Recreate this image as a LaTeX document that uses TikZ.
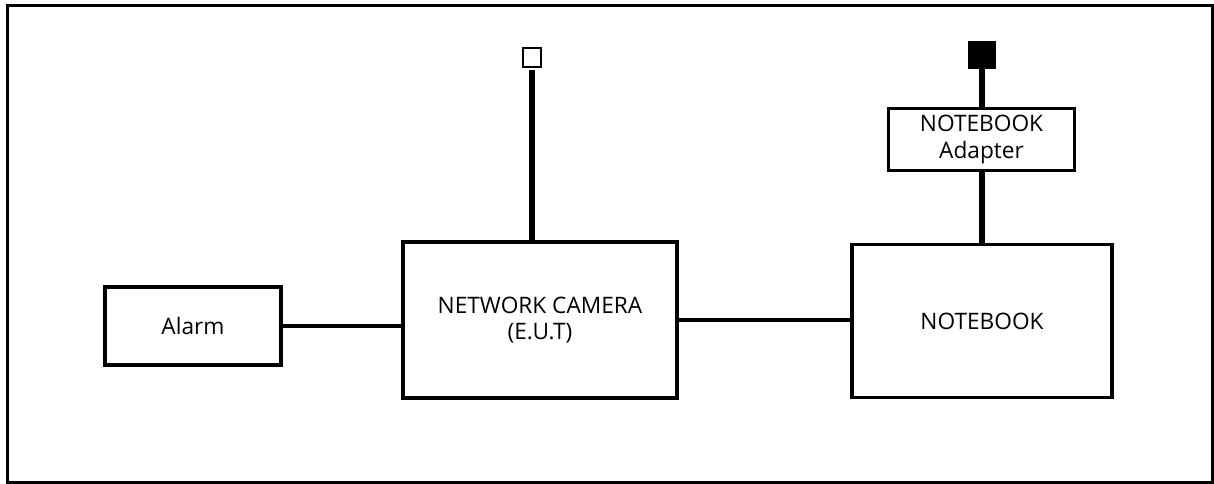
\documentclass[tikz,border=0pt]{standalone}
\usepackage{fontspec}
\setmainfont{Open Sans}
\usetikzlibrary{positioning}

\begin{document}
\begin{tikzpicture}[x=0.75pt, y=-0.75pt,
  unitbox/.style={draw, line width=2.3pt, align=center, inner sep=0pt,
    font=\fontsize{17}{20}\selectfont},
  cable/.style={line width=2.3pt},
  mains/.style={line width=4.8pt}]
  \useasboundingbox (0,0) rectangle (1214,484);
  % outer frame
  \draw[line width=2.2pt] (7.5,5.5) rectangle (1212.5,482.5);

  % units
  \node[unitbox, minimum width=132pt, minimum height=58.5pt] (alarm) at (193,326) {Alarm};
  \node[unitbox, minimum width=205.5pt, minimum height=117pt] (cam) at (540,320) {NETWORK CAMERA\\(E.U.T)};
  \node[unitbox, minimum width=195pt, minimum height=115pt] (nb) at (982,321) {NOTEBOOK};
  \node[unitbox, minimum width=140pt, minimum height=46pt] (adapter) at (981.5,139.5) {NOTEBOOK\\Adapter};

  % power plugs
  \node[draw, line width=1.5pt, minimum size=14pt, inner sep=0pt] (camplug) at (532,57.5) {};
  \node[draw, fill=black, line width=1.5pt, minimum size=19.5pt, inner sep=0pt] (nbplug) at (982,55.5) {};

  % cables
  \draw[cable] (alarm.east) -- (alarm.east -| cam.west);
  \draw[cable] (cam.east) -- (cam.east -| nb.west);
  \draw[mains, shorten <=2pt] (camplug.south) -- (camplug.south |- cam.north);
  \draw[mains] (nbplug.south) -- (nbplug.south |- adapter.north);
  \draw[mains] (adapter.south -| nbplug) -- (nbplug |- nb.north);
\end{tikzpicture}
\end{document}
